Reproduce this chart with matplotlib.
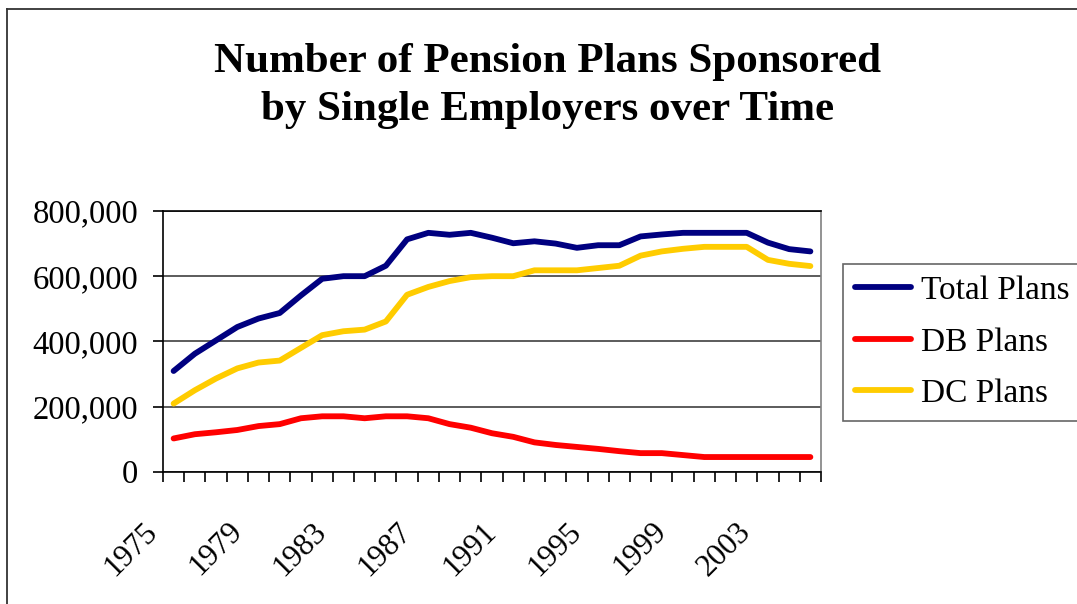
import matplotlib.pyplot as plt
import matplotlib.transforms as mtransforms
from matplotlib.lines import Line2D
import numpy as np

plt.rcParams['font.family'] = ['Liberation Serif', 'DejaVu Serif']

years = list(range(1975, 2006))
total_plans = [309000, 362000, 403000, 444000, 470000, 487000, 541000, 592000,
               600000, 600000, 632000, 713000, 733000, 727000, 733000, 718000,
               701000, 707000, 700000, 687000, 695000, 695000, 722000, 728000,
               733000, 733000, 733000, 733000, 703000, 683000, 676000]
db_plans = [102000, 115000, 121000, 128000, 140000, 146000, 164000, 170000,
            170000, 164000, 170000, 170000, 164000, 146000, 135000, 118000,
            107000, 90000, 82000, 76000, 70000, 63000, 57000, 57000,
            51000, 45000, 45000, 45000, 45000, 45000, 45000]
dc_plans = [209000, 250000, 286000, 317000, 335000, 341000, 380000, 419000,
            431000, 436000, 461000, 543000, 567000, 585000, 597000, 600000,
            600000, 618000, 618000, 618000, 625000, 632000, 663000, 676000,
            684000, 690000, 690000, 690000, 650000, 638000, 631000]
series_names = ['Total Plans', 'DB Plans', 'DC Plans']
colors = ['#000080', '#FF0000', '#FFCC00']

fig = plt.figure(figsize=(10.77, 6.04), dpi=100)
ax = fig.add_axes([163 / 1077, 1 - 471.7 / 604, (821 - 163) / 1077, (471.7 - 211) / 604])

x = np.arange(len(years))
handles = []
for vals, name, c in zip([total_plans, db_plans, dc_plans], series_names, colors):
    h, = ax.plot(x, vals, color=c, lw=4.2, solid_capstyle='round',
                 solid_joinstyle='round', label=name, zorder=3)
    handles.append(h)

ax.set_xlim(-0.5, len(years) - 0.5)
ax.set_ylim(0, 800000)
yt = np.arange(0, 800001, 200000)
ax.set_yticks(yt)
ax.set_yticklabels([f'{v:,}' for v in yt], fontsize=23.5)
ax.yaxis.grid(True, color='#404040', lw=1.2)
ax.set_axisbelow(True)

# category boundaries as ticks, labels every 4th year
ax.set_xticks(np.arange(-0.5, len(years)), minor=True)
lab_idx = list(range(0, len(years), 4))
ax.set_xticks(lab_idx)
ax.set_xticklabels([str(years[i]) for i in lab_idx], fontsize=22.5, rotation=45,
                   ha='right', va='center', rotation_mode='anchor')
ax.tick_params(axis='x', which='major', length=0, pad=40)
ax.tick_params(axis='x', which='minor', length=7, width=1.2, direction='out')
ax.tick_params(axis='y', length=7, width=1.2, direction='out', pad=11)
offset = mtransforms.ScaledTranslation(-21 / 100, 0, fig.dpi_scale_trans)
for lbl in ax.get_xticklabels():
    lbl.set_transform(lbl.get_transform() + offset)

for s in ax.spines.values():
    s.set_color('black')
    s.set_linewidth(1.2)
ax.spines['right'].set_color('#808080')

# title, two lines
fig.text(548 / 1077, 1 - 72 / 604, 'Number of Pension Plans Sponsored',
         ha='center', va='baseline', fontsize=31, fontweight='bold')
fig.text(548 / 1077, 1 - 120 / 604, 'by Single Employers over Time',
         ha='center', va='baseline', fontsize=31, fontweight='bold')

# outer chart border (left and top visible)
fig.add_artist(Line2D([7 / 1077, 7 / 1077], [0, 1 - 8.5 / 604], color='#333333', lw=1.3,
                      transform=fig.transFigure))
fig.add_artist(Line2D([7 / 1077, 1], [1 - 8.5 / 604, 1 - 8.5 / 604], color='#333333', lw=1.3,
                      transform=fig.transFigure))

leg = fig.legend(handles=handles, loc='upper left', bbox_to_anchor=(843 / 1077, 1 - 264 / 604),
                 fontsize=24, frameon=True, fancybox=False, edgecolor='#404040',
                 handlelength=1.7, handletextpad=0.3, labelspacing=0.63,
                 borderpad=0.35, borderaxespad=0)
leg.get_frame().set_linewidth(1.2)

fig.savefig('out.png', dpi=100)
